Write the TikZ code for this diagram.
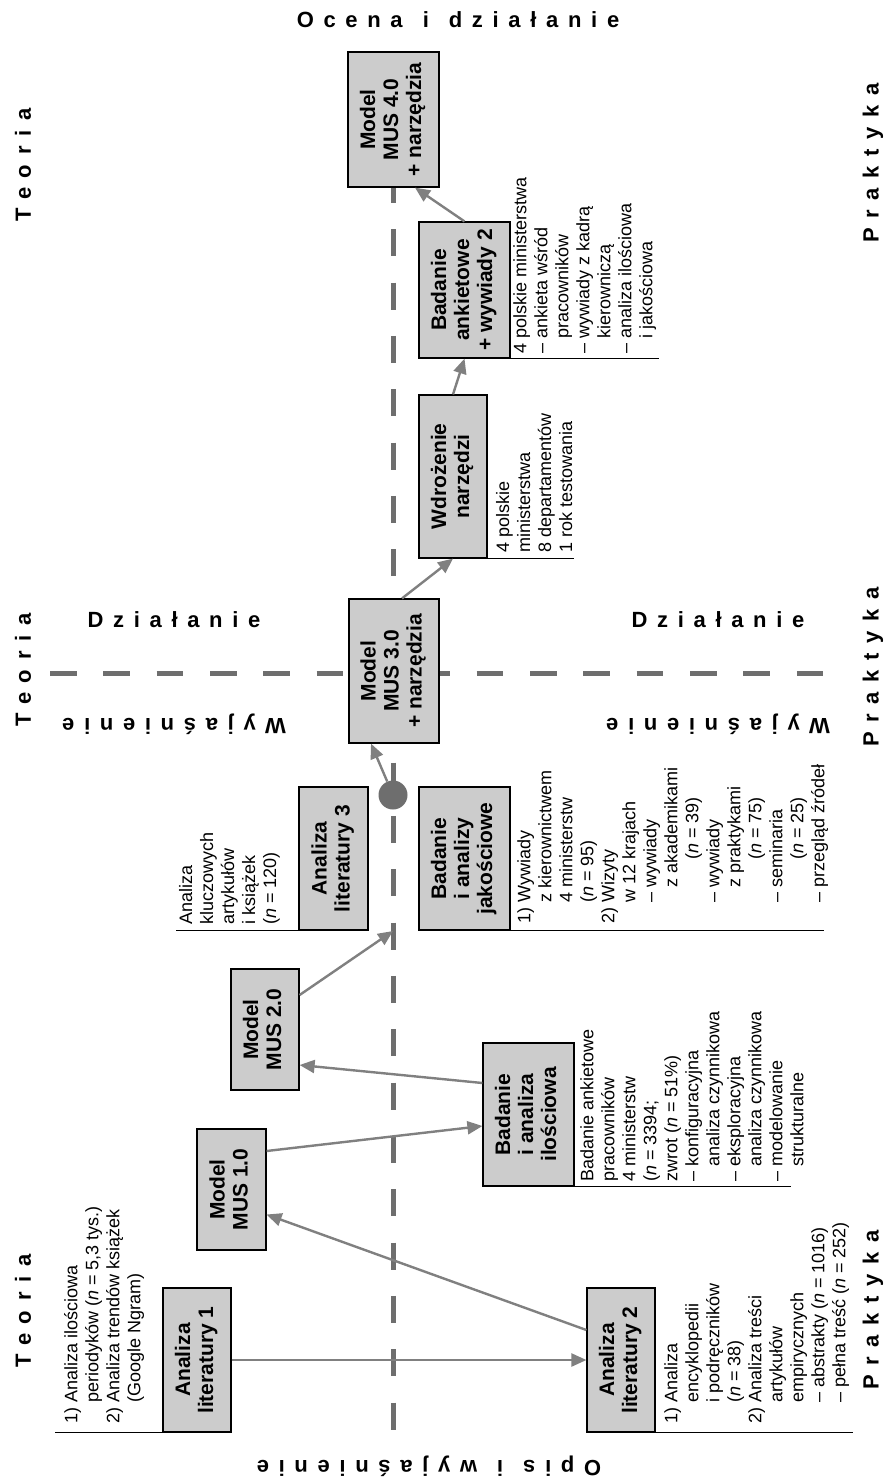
\documentclass[tikz,border=0pt]{standalone}
\usepackage{fontspec}
\usepackage{graphicx}
\setmainfont{Liberation Sans}
\newfontfamily\axisfont[LetterSpace=44]{Liberation Sans}
\usetikzlibrary{arrows.meta}

\definecolor{boxgray}{HTML}{CCCCCC}
\definecolor{arrowgray}{HTML}{808080}
\definecolor{dashgray}{HTML}{6E6E6E}

% box captions are set upright in a tabular, then turned a quarter
\newcommand\boxlabel[1]{\rotatebox{90}{\begin{tabular}{@{}c@{}}#1\end{tabular}}}
% hanging indents used in the note blocks
\newcommand\hng{\hspace*{21pt}}
\newcommand\dsh{\hspace*{15pt}}
\newcommand\cnt{\hspace*{28pt}}

\begin{document}
\begin{tikzpicture}[x=1pt, y=-1pt,
  box/.style={draw=black, line width=1.2pt, fill=boxgray, inner sep=0pt,
    font=\fontsize{21}{23}\selectfont\bfseries},
  notes/.style={rotate=90, anchor=north west, align=left, inner sep=0pt,
    font=\fontsize{18}{21}\selectfont},
  bracket/.style={draw=black, line width=1.2pt},
  flow/.style={draw=arrowgray, line width=2.4pt,
    -{Triangle[length=15pt, width=13pt]}},
  axislabel/.style={font=\fontsize{22}{26}\axisfont\bfseries, inner sep=0pt},
  axisline/.style={draw=dashgray, line width=5pt}
]
\useasboundingbox[fill=white] (0,0) rectangle (886,1481);

% the two dashed axes
\draw[axisline, dash pattern=on 27pt off 26.33pt] (393,176) -- (393,1430);
\draw[axisline, dash pattern=on 26.67pt off 26.67pt] (50,673) -- (823,673);

% boxes
\node[box, minimum width=68, minimum height=144] (lit1) at (197,1360) {\boxlabel{Analiza\\literatury 1}};
\node[box, minimum width=68, minimum height=144] (lit2) at (621,1360) {\boxlabel{Analiza\\literatury 2}};
\node[box, minimum width=69, minimum height=121] (mus1) at (231.5,1189.5) {\boxlabel{Model\\MUS 1.0}};
\node[box, minimum width=68, minimum height=121] (mus2) at (265,1029.5) {\boxlabel{Model\\MUS 2.0}};
\node[box, minimum width=69, minimum height=143] (lit3) at (333.5,858.5) {\boxlabel{Analiza\\literatury 3}};
\node[box, minimum width=91, minimum height=143] (jak) at (464.5,858.5) {\boxlabel{Badanie\\i analizy\\jakościowe}};
\node[box, minimum width=91, minimum height=143] (ilo) at (528.5,1114.5) {\boxlabel{Badanie\\i analiza\\ilościowa}};
\node[box, minimum width=90, minimum height=144] (mus3) at (394,671) {\boxlabel{Model\\MUS 3.0\\+ narzędzia}};
\node[box, minimum width=68, minimum height=163] (wdr) at (453,476.5) {\boxlabel{Wdrożenie\\narzędzi}};
\node[box, minimum width=91, minimum height=136] (ank) at (464.5,290) {\boxlabel{Badanie\\ankietowe\\+ wywiady 2}};
\node[box, minimum width=91, minimum height=135] (mus4) at (393.5,119.5) {\boxlabel{Model\\MUS 4.0\\+ narzędzia}};

% rules running on from the boxes under their notes
\draw[bracket] (lit1.south west) -- ++(-107,0);
\draw[bracket] (lit2.south east) -- ++(197,0);
\draw[bracket] (lit3.south west) -- ++(-122,0);
\draw[bracket] (jak.south east) -- ++(313,0);
\draw[bracket] (ilo.south east) -- ++(216,0);
\draw[bracket] (wdr.south east) -- ++(86,0);
\draw[bracket] (ank.south east) -- ++(148,0);

% junction marks on the axis
\node[circle, fill=dashgray, minimum size=29, inner sep=0pt] (dot) at (393,795) {};
\coordinate (meet) at (393,931);

% flow of the research
\draw[flow] (lit1) -- (lit2);
\draw[flow] ([yshift=30pt]lit2.west) -- ([yshift=-25pt]mus1.east);
\draw[flow] ([yshift=38.5pt]mus1.east) -- ([yshift=-11.5pt]ilo.west);
\draw[flow] ([yshift=31.5pt]ilo.west) -- ([yshift=-35.5pt]mus2.east);
\draw[flow] ([yshift=34.5pt]mus2.east) -- (meet);
\draw[flow] (dot) -- ([xshift=-23pt]mus3.south);
\draw[flow] ([xshift=8pt]mus3.north) -- (wdr.south);
\draw[flow] (wdr.north) -- (ank.south);
\draw[flow] (ank.north) -- ([xshift=21.5pt]mus4.south);

% notes beside the boxes
\node[notes] (nA) at (64,1424) {1)\ Analiza ilościowa\\
\hng periodyków (\textit{n} = 5,3 tys.)\\
2)\ Analiza trendów książek\\
\hng (Google Ngram)};

\node[notes] (nB) at (664,1424) {1)\ Analiza\\
\hng encyklopedii\\
\hng i podręczników\\
\hng (\textit{n} = 38)\\
2)\ Analiza treści\\
\hng artykułów\\
\hng empirycznych\\
\hng – abstrakty (\textit{n} = 1016)\\
\hng – pełna treść (\textit{n} = 252)};

\node[notes] (nC) at (179,925) {Analiza\\
kluczowych\\
artykułów\\
i książek\\
(\textit{n} = 120)};

\node[notes] (nD) at (580,1182) {Badanie ankietowe\\
pracowników\\
4 ministerstw\\
(\textit{n} = 3394;\\
zwrot (\textit{n} = 51\%)\\
– konfiguracyjna\\
\dsh analiza czynnikowa\\
– eksploracyjna\\
\dsh analiza czynnikowa\\
– modelowanie\\
\dsh strukturalne};

\node[notes] (nE) at (517,924) {1)\ Wywiady\\
\hng z kierownictwem\\
\hng 4 ministerstw\\
\hng (\textit{n} = 95)\\
2)\ Wizyty\\
\hng w 12 krajach\\
\hng – wywiady\\
\hng\dsh z akademikami\\
\hng\dsh\cnt (\textit{n} = 39)\\
\hng – wywiady\\
\hng\dsh z praktykami\\
\hng\dsh\cnt (\textit{n} = 75)\\
\hng – seminaria\\
\hng\dsh\cnt (\textit{n} = 25)\\
\hng – przegląd źródeł};

\node[notes] (nF) at (496,553) {4 polskie\\
ministerstwa\\
8 departamentów\\
1 rok testowania};

\node[notes] (nG) at (513,354) {4 polskie ministerstwa\\
– ankieta wśród\\
\dsh pracowników\\
– wywiady z kadrą\\
\dsh kierowniczą\\
– analiza ilościowa\\
\dsh i jakościowa};

% axis labels
\node[axislabel, rotate=90] (t1) at (23,165) {Teoria};
\node[axislabel, rotate=90] (t2) at (23,670) {Teoria};
\node[axislabel, rotate=90] (t3) at (23,1311) {Teoria};
\node[axislabel, rotate=90] (p1) at (873,163) {Praktyka};
\node[axislabel, rotate=90] (p2) at (873,667) {Praktyka};
\node[axislabel, rotate=90] (p3) at (873,1310) {Praktyka};
\node[axislabel] (top) at (458,20) {Ocena\hspace{20pt}i\hspace{20pt}działanie};
\node[axislabel, rotate=180] (bottom) at (429,1466) {Opis\hspace{20pt}i\hspace{20pt}wyjaśnienie};
\node[axislabel] (d1) at (174,620) {Działanie};
\node[axislabel] (d2) at (718,620) {Działanie};
\node[axislabel, rotate=180] (w1) at (174,724) {Wyjaśnienie};
\node[axislabel, rotate=180] (w2) at (718,724) {Wyjaśnienie};
\end{tikzpicture}
\end{document}
